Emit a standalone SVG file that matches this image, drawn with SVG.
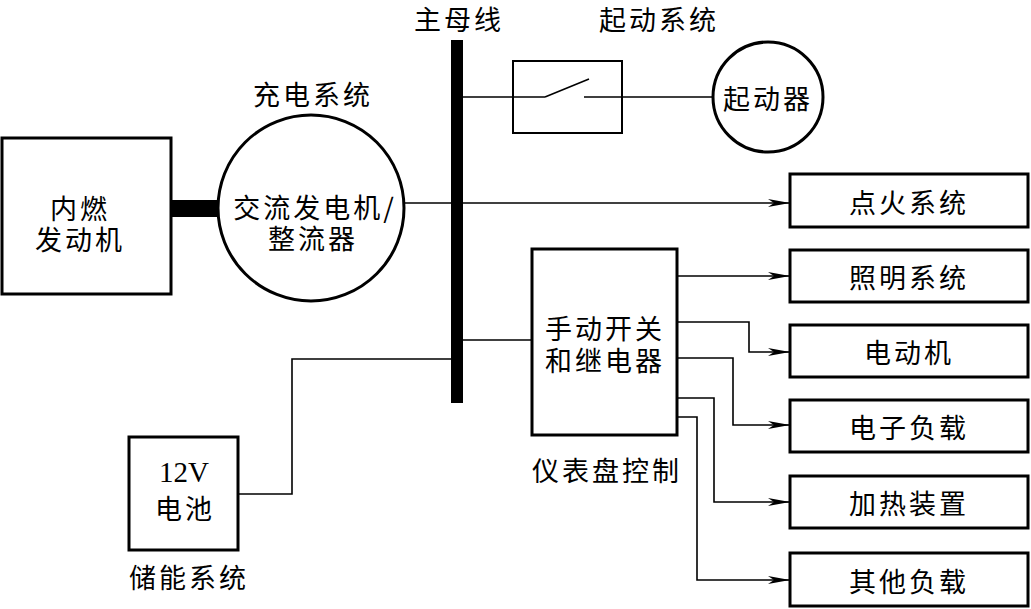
<svg xmlns="http://www.w3.org/2000/svg" width="1031" height="609" viewBox="0 0 1031 609">
<style>
.box{fill:#fff;stroke:#000;stroke-width:3}
.ln{fill:none;stroke:#000;stroke-width:1.6}
.t{font-family:"Noto Sans CJK SC","Liberation Serif",sans-serif;font-size:27px;fill:#000;text-anchor:middle;dominant-baseline:central;letter-spacing:3px}
.num{font-family:"Liberation Serif","Noto Sans CJK SC",serif;font-size:29px;letter-spacing:0}
</style>
<defs>
<marker id="ar" markerUnits="userSpaceOnUse" markerWidth="24" markerHeight="10" refX="22" refY="5" orient="auto">
<path d="M0,1 L22,5 L0,9 L6,5 z" fill="#000"/>
</marker>
</defs>
<rect x="0" y="0" width="1031" height="609" fill="#fff"/>

<g id="connectors">
<rect x="171" y="200" width="47" height="17" fill="#000"/>
<path class="ln" d="M463,97 H545 M545,97 L589,79 M584,97 H712"/>
<path class="ln" d="M403,203 H790" marker-end="url(#ar)"/>
<path class="ln" d="M463,340 H532"/>
<path class="ln" d="M238,494 H292 V359 H451"/>
<path class="ln" d="M677,276 H790" marker-end="url(#ar)"/>
<path class="ln" d="M677,322 H749 V352 H790" marker-end="url(#ar)"/>
<path class="ln" d="M677,358 H733 V425 H790" marker-end="url(#ar)"/>
<path class="ln" d="M677,398 H714 V502 H790" marker-end="url(#ar)"/>
<path class="ln" d="M677,417 H697 V580 H790" marker-end="url(#ar)"/>
</g>

<g id="bus">
<rect x="451" y="40" width="12" height="363" fill="#000"/>
<text class="t" x="459" y="18">主母线</text>
</g>

<g id="switch">
<rect x="513" y="61" width="109" height="72" style="fill:none;stroke:#000;stroke-width:2"/>
<text class="t" x="659" y="18">起动系统</text>
</g>

<g id="starter">
<circle class="box" cx="768" cy="97" r="55"/>
<text class="t" x="768" y="97">起动器</text>
</g>

<g id="engine">
<rect class="box" x="2" y="138" width="169" height="156"/>
<text class="t"><tspan x="80" y="207">内燃</tspan><tspan x="80" y="238">发动机</tspan></text>
</g>

<g id="alternator">
<circle class="box" cx="311" cy="208" r="93"/>
<text class="t"><tspan x="315" y="206">交流发电机/</tspan><tspan x="313" y="237">整流器</tspan></text>
<text class="t" x="313" y="93">充电系统</text>
</g>

<g id="panel">
<rect class="box" x="532" y="249" width="145" height="186"/>
<text class="t"><tspan x="605" y="327">手动开关</tspan><tspan x="605" y="359">和继电器</tspan></text>
<text class="t" x="607" y="469">仪表盘控制</text>
</g>

<g id="battery">
<rect class="box" x="129" y="437" width="109" height="113"/>
<text class="t num" x="184" y="472">12V</text>
<text class="t" x="185" y="507">电池</text>
<text class="t" x="189" y="576">储能系统</text>
</g>

<g id="ignition">
<rect class="box" x="790" y="174" width="238" height="53"/>
<text class="t" x="909" y="201">点火系统</text>
</g>
<g id="lighting">
<rect class="box" x="790" y="250" width="238" height="52"/>
<text class="t" x="909" y="276">照明系统</text>
</g>
<g id="motor">
<rect class="box" x="790" y="325" width="238" height="52"/>
<text class="t" x="909" y="351">电动机</text>
</g>
<g id="electronic">
<rect class="box" x="790" y="400" width="238" height="52"/>
<text class="t" x="909" y="426">电子负载</text>
</g>
<g id="heating">
<rect class="box" x="790" y="476" width="238" height="52"/>
<text class="t" x="909" y="502">加热装置</text>
</g>
<g id="other">
<rect class="box" x="790" y="553" width="238" height="53"/>
<text class="t" x="909" y="580">其他负载</text>
</g>
</svg>
